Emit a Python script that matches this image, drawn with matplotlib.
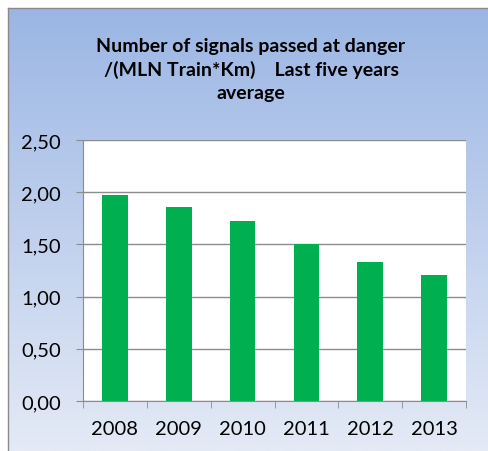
import numpy as np
import matplotlib
matplotlib.use("Agg")
import matplotlib.pyplot as plt

# yearly SPAD rate per million train-km
years = ['2008', '2009', '2010', '2011', '2012', '2013']
spadRate = [1.97, 1.86, 1.72, 1.50, 1.33, 1.21]
yTicks = [0.0, 0.5, 1.0, 1.5, 2.0, 2.5]

plt.rcParams['font.family'] = ['Lato', 'DejaVu Sans']

fig = plt.figure(figsize=(4.88, 4.52), dpi=100)
fig.patch.set_facecolor('white')

# blue-to-white gradient chart background, runs off the right/bottom edge
bg = fig.add_axes([8/488, 0, 1 - 8/488, 1 - 9/452])
top = np.array([155, 182, 228]) / 255
bottom = np.array([228, 234, 246]) / 255
t = np.linspace(0, 1, 256)[:, None]
grad = top + (bottom - top) * t
bg.imshow(grad[:, None, :], aspect='auto', extent=[0, 1, 0, 1])
bg.set_xticks([])
bg.set_yticks([])
for side, s in bg.spines.items():
    s.set_color('#8a8a8a')
    s.set_linewidth(1.0)
    s.set_visible(side in ('left', 'top'))

ax = fig.add_axes([83/488, (452-402)/452, (466-83)/488, (402-141)/452])
ax.set_facecolor('white')
x = np.arange(len(years))
ax.bar(x, spadRate, width=0.4, color='#00B050', zorder=3)

ax.set_xlim(-0.5, len(years) - 0.5)
ax.set_ylim(0, 2.5)
ax.set_yticks(yTicks)
ax.set_yticklabels([f"{v:.2f}".replace('.', ',') for v in yTicks], fontsize=14.5)
ax.yaxis.grid(True, color='#8c8c8c', linewidth=1.0, zorder=0)

ax.set_xticks(x)
ax.set_xticklabels(years, fontsize=14.5)
ax.set_xticks(np.arange(len(years) + 1) - 0.5, minor=True)
ax.tick_params(axis='x', which='major', length=0, pad=14)
ax.tick_params(axis='x', which='minor', length=5, color='#8c8c8c')
ax.tick_params(axis='y', length=5, color='#8c8c8c', pad=11)

for side in ['top', 'right']:
    ax.spines[side].set_visible(False)
for side in ['left', 'bottom']:
    ax.spines[side].set_color('#8c8c8c')

fig.text(251/488, 1 - 70/452,
         'Number of signals passed at danger\n/(MLN Train*Km)    Last five years\naverage',
         ha='center', va='center', fontsize=14, fontweight='bold', linespacing=1.4)

fig.savefig('out.png', dpi=100)
